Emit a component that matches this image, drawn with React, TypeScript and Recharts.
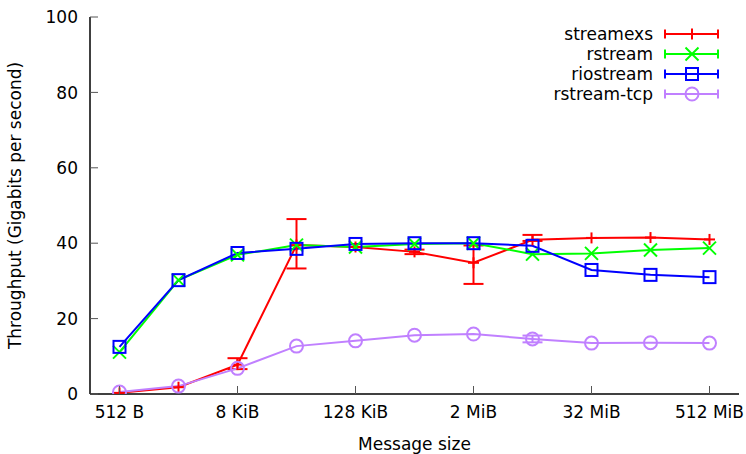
import React from 'react';
import { LineChart, Line, XAxis, YAxis, ErrorBar, Legend } from 'recharts';

// message size as log2(bytes): 512 B .. 512 MiB
const sizeExp = [9, 11, 13, 15, 17, 19, 21, 23, 25, 27, 29];
const xTickExp = [9, 13, 17, 21, 25, 29];
const xTickLabels = ['512 B', '8 KiB', '128 KiB', '2 MiB', '32 MiB', '512 MiB'];
const yTicks = [0, 20, 40, 60, 80, 100];

const streamexs = [0.3, 1.8, 7.8, 39.5, 39.0, 37.7, 34.8, 40.9, 41.4, 41.5, 41.0];
const streamexsErr: ([number, number] | undefined)[] = [
  undefined, undefined, [1.2, 1.7], [6.2, 6.9], undefined, [0.6, 0.6], [5.6, 4.6], [0.3, 1.3], undefined, undefined, undefined,
];
const rstream = [11.1, 30.2, 36.9, 39.5, 39.0, 39.8, 40.0, 37.1, 37.3, 38.2, 38.7];
const riostream = [12.5, 30.2, 37.4, 38.5, 39.8, 40.0, 40.0, 39.3, 32.9, 31.6, 31.0];
const rstreamTcp = [0.5, 2.1, 6.8, 12.7, 14.1, 15.6, 15.9, 14.6, 13.5, 13.6, 13.5];
const rstreamTcpErr: ([number, number] | undefined)[] = [
  undefined, undefined, undefined, undefined, undefined, undefined, undefined, [0.9, 0.9], undefined, undefined, undefined,
];

const seriesNames = ['streamexs', 'rstream', 'riostream', 'rstream-tcp'];
const seriesKeys = ['streamexs', 'rstream', 'riostream', 'rstreamTcp'];
const seriesColors = ['#ff0000', '#00ff00', '#0000ff', '#c080ff'];
const seriesMarkers = ['plus', 'cross', 'square', 'circle'];

const data = sizeExp.map((e, i) => ({
  exp: e,
  streamexs: streamexs[i],
  streamexsErr: streamexsErr[i],
  rstream: rstream[i],
  riostream: riostream[i],
  rstreamTcp: rstreamTcp[i],
  rstreamTcpErr: rstreamTcpErr[i],
}));

const FONT = 'DejaVu Sans, sans-serif';
const FS = 17;
const TICK_COLOR = '#555';
const TICK_LEN = 8;

function Marker({ type, cx, cy, color }: { type: string; cx: number; cy: number; color: string }) {
  if (cx == null || cy == null) return null;
  if (type === 'plus') {
    const h = 5.5;
    return (
      <g stroke={color} strokeWidth={2} fill="none">
        <line x1={cx - h} y1={cy} x2={cx + h} y2={cy} />
        <line x1={cx} y1={cy - h} x2={cx} y2={cy + h} />
      </g>
    );
  }
  if (type === 'cross') {
    const h = 6.5;
    return (
      <g stroke={color} strokeWidth={2} fill="none">
        <line x1={cx - h} y1={cy - h} x2={cx + h} y2={cy + h} />
        <line x1={cx - h} y1={cy + h} x2={cx + h} y2={cy - h} />
      </g>
    );
  }
  if (type === 'square') {
    const h = 6;
    return <rect x={cx - h} y={cy - h} width={2 * h} height={2 * h} stroke={color} strokeWidth={2} fill="none" />;
  }
  return <circle cx={cx} cy={cy} r={6.5} stroke={color} strokeWidth={2} fill="none" />;
}

const makeDot = (type: string, color: string) => (props: any) => (
  <Marker key={`${type}-${props.index}`} type={type} cx={props.cx} cy={props.cy} color={color} />
);

const BottomTick = (props: any) => {
  const { x, y, payload } = props;
  const idx = xTickExp.indexOf(payload.value);
  return (
    <g>
      <line x1={x} y1={y} x2={x} y2={y - TICK_LEN} stroke={TICK_COLOR} strokeWidth={1} />
      <text x={x} y={y + 24} textAnchor="middle" fontFamily={FONT} fontSize={FS} fill="#000">
        {idx >= 0 ? xTickLabels[idx] : ''}
      </text>
    </g>
  );
};

const TopTick = (props: any) => {
  const { x, y } = props;
  return <line x1={x} y1={y} x2={x} y2={y + TICK_LEN} stroke={TICK_COLOR} strokeWidth={1} />;
};

const LeftTick = (props: any) => {
  const { x, y, payload } = props;
  return (
    <g>
      <line x1={x} y1={y} x2={x + TICK_LEN} y2={y} stroke={TICK_COLOR} strokeWidth={1} />
      <text x={x - 12} y={y} dy="0.36em" textAnchor="end" fontFamily={FONT} fontSize={FS} fill="#000">
        {payload.value}
      </text>
    </g>
  );
};

const RightTick = (props: any) => {
  const { x, y } = props;
  return <line x1={x} y1={y} x2={x - TICK_LEN} y2={y} stroke={TICK_COLOR} strokeWidth={1} />;
};

const LegendBox = () => {
  const textRight = 653;
  const x1 = 665;
  const x2 = 718;
  const xm = 692;
  return (
    <svg width={746} height={120} style={{ display: 'block' }}>
      {seriesNames.map((name, i) => {
        const y = 34 + i * 20;
        const c = seriesColors[i];
        return (
          <g key={name}>
            <text x={textRight} y={y} dy="0.36em" textAnchor="end" fontFamily={FONT} fontSize={FS} fill="#000">
              {name}
            </text>
            <line x1={x1} y1={y} x2={x2} y2={y} stroke={c} strokeWidth={2} />
            <line x1={x1} y1={y - 4.5} x2={x1} y2={y + 4.5} stroke={c} strokeWidth={2} />
            <line x1={x2} y1={y - 4.5} x2={x2} y2={y + 4.5} stroke={c} strokeWidth={2} />
            <Marker type={seriesMarkers[i]} cx={xm} cy={y} color={c} />
          </g>
        );
      })}
    </svg>
  );
};

export default function App() {
  return (
    <div style={{ position: 'absolute', left: 0, top: 0, width: 746, height: 454, background: '#fff', overflow: 'visible' }}>
      <LineChart width={746} height={454} data={data} margin={{ top: 17, right: 7, bottom: 0, left: 0 }}>
        <XAxis
          xAxisId="b"
          dataKey="exp"
          type="number"
          domain={[8, 30]}
          ticks={xTickExp}
          interval={0}
          height={60}
          tickSize={0}
          tickMargin={0}
          tickLine={false}
          tick={BottomTick}
          axisLine={{ stroke: '#000', strokeWidth: 1.5 }}
          allowDataOverflow
          label={(p: any) => {
            const vb = p.viewBox;
            return (
              <text x={vb.x + vb.width / 2} y={vb.y + 56} textAnchor="middle" fontFamily={FONT} fontSize={FS} fill="#000">
                Message size
              </text>
            );
          }}
        />
        <XAxis
          xAxisId="t"
          orientation="top"
          dataKey="exp"
          type="number"
          domain={[8, 30]}
          ticks={xTickExp}
          interval={0}
          height={0}
          tickSize={0}
          tickMargin={0}
          tickLine={false}
          tick={TopTick}
          axisLine={{ stroke: '#000', strokeWidth: 1.5 }}
          allowDataOverflow
        />
        <YAxis
          yAxisId="l"
          type="number"
          domain={[0, 100]}
          ticks={yTicks}
          interval={0}
          width={90}
          tickSize={0}
          tickMargin={0}
          tickLine={false}
          tick={LeftTick}
          axisLine={{ stroke: '#000', strokeWidth: 1.5 }}
          allowDataOverflow
          label={(p: any) => {
            const vb = p.viewBox;
            const cx = vb.x + 21;
            const cy = vb.y + vb.height / 2;
            return (
              <text x={cx} y={cy} transform={`rotate(-90, ${cx}, ${cy})`} textAnchor="middle" fontFamily={FONT} fontSize={FS} fill="#000">
                Throughput (Gigabits per second)
              </text>
            );
          }}
        />
        <YAxis
          yAxisId="r"
          orientation="right"
          type="number"
          domain={[0, 100]}
          ticks={yTicks}
          interval={0}
          width={0}
          tickSize={0}
          tickMargin={0}
          tickLine={false}
          tick={RightTick}
          axisLine={{ stroke: '#000', strokeWidth: 1.5 }}
          allowDataOverflow
        />
        <Legend
          layout="horizontal"
          verticalAlign="middle"
          align="center"
          wrapperStyle={{ position: 'absolute', left: 0, top: 0, width: 746, height: 120, pointerEvents: 'none' }}
          content={LegendBox}
        />
        <Line
          xAxisId="b"
          yAxisId="l"
          dataKey={seriesKeys[0]}
          name={seriesNames[0]}
          stroke={seriesColors[0]}
          strokeWidth={2}
          dot={makeDot(seriesMarkers[0], seriesColors[0])}
          isAnimationActive={false}
        >
          <ErrorBar dataKey="streamexsErr" direction="y" width={10} stroke={seriesColors[0]} strokeWidth={2} />
        </Line>
        <Line
          xAxisId="b"
          yAxisId="l"
          dataKey={seriesKeys[1]}
          name={seriesNames[1]}
          stroke={seriesColors[1]}
          strokeWidth={2}
          dot={makeDot(seriesMarkers[1], seriesColors[1])}
          isAnimationActive={false}
        />
        <Line
          xAxisId="b"
          yAxisId="l"
          dataKey={seriesKeys[2]}
          name={seriesNames[2]}
          stroke={seriesColors[2]}
          strokeWidth={2}
          dot={makeDot(seriesMarkers[2], seriesColors[2])}
          isAnimationActive={false}
        />
        <Line
          xAxisId="b"
          yAxisId="l"
          dataKey={seriesKeys[3]}
          name={seriesNames[3]}
          stroke={seriesColors[3]}
          strokeWidth={2}
          dot={makeDot(seriesMarkers[3], seriesColors[3])}
          isAnimationActive={false}
        >
          <ErrorBar dataKey="rstreamTcpErr" direction="y" width={10} stroke={seriesColors[3]} strokeWidth={2} />
        </Line>
      </LineChart>
    </div>
  );
}
